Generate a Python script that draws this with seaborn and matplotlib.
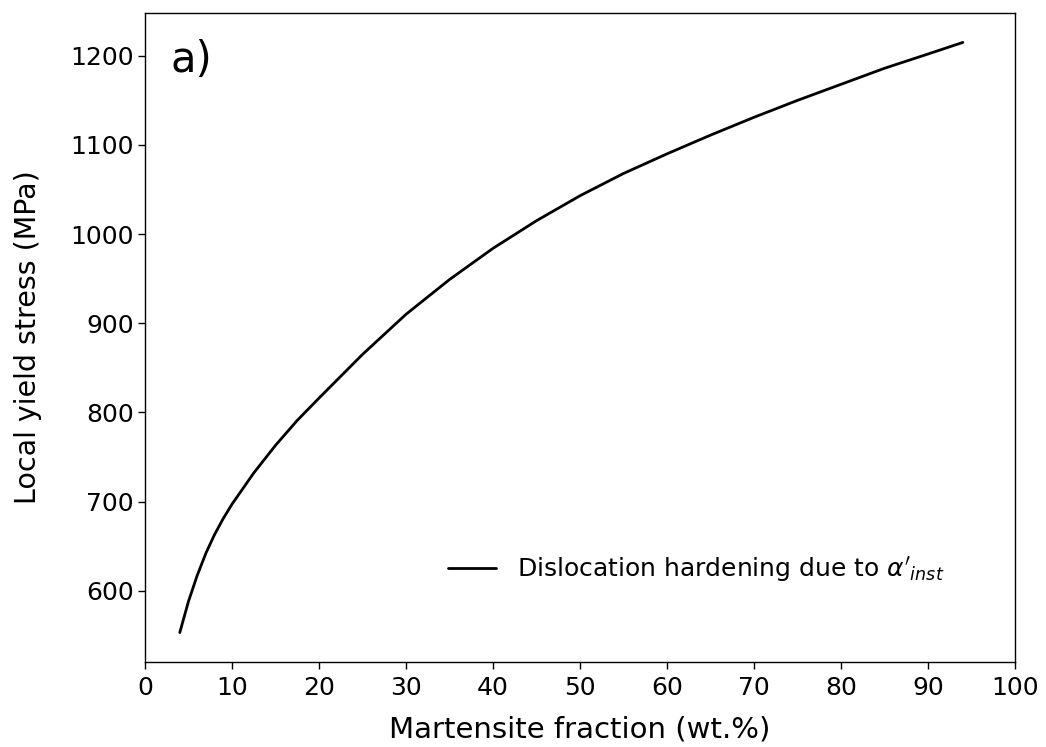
import numpy as np
import pandas as pd
import seaborn as sns
import matplotlib
matplotlib.use("Agg")
import matplotlib.pyplot as plt


# 읽어낸 곡선 값 (마르텐사이트 분율 vs 국부 항복응력)
martensite_frac = [4, 5, 6, 7, 8, 9, 10, 12.5, 15, 17.5, 20, 25, 30, 35, 40,
                   45, 50, 55, 60, 65, 70, 75, 80, 85, 90, 94]
yield_stress = [553, 588, 617, 642, 663, 681, 697, 732, 763, 791, 816, 865,
                910, 949, 984, 1015, 1043, 1068, 1090, 1111, 1131, 1150,
                1168, 1186, 1202, 1215]

x_ticks = list(range(0, 101, 10))
y_ticks = [600, 700, 800, 900, 1000, 1100, 1200]

legend_label = r"Dislocation hardening due to $\alpha'_{inst}$"


sns.set_theme(style="ticks")
plt.rcParams["font.family"] = ["DejaVu Sans"]
plt.rcParams["mathtext.fontset"] = "dejavusans"
plt.rcParams["text.color"] = "black"
plt.rcParams["axes.labelcolor"] = "black"

df = pd.DataFrame({"frac": martensite_frac, "stress": yield_stress})

fig = plt.figure(figsize=(10.46, 7.47), dpi=100)
ax = fig.add_axes([0.1386, 0.1138, 0.8318, 0.8688])

sns.lineplot(data=df, x="frac", y="stress", color="black", linewidth=2,
             label=legend_label, ax=ax)

ax.set_xlim(0, 100)
ax.set_ylim(520, 1248)
ax.set_xticks(x_ticks)
ax.set_yticks(y_ticks)
ax.tick_params(labelsize=18, length=5, width=1, colors="black")
ax.tick_params(axis="x", pad=5)
ax.tick_params(axis="y", pad=3)

for side in ["top", "right", "bottom", "left"]:
    ax.spines[side].set_visible(True)
    ax.spines[side].set_color("black")
    ax.spines[side].set_linewidth(1)

ax.set_xlabel("Martensite fraction (wt.%)", fontsize=21, labelpad=11)
ax.set_ylabel("Local yield stress (MPa)", fontsize=20.5, labelpad=20)

# 패널 표시
ax.text(0.029, 0.927, "a)", transform=ax.transAxes, fontsize=30,
        ha="left", va="center", color="black")

ax.legend(loc="center right", bbox_to_anchor=(0.945, 0.142), frameon=False,
          fontsize=18, handlelength=1.9, handletextpad=0.85)

fig.savefig("out.png", dpi=100)
plt.close(fig)
